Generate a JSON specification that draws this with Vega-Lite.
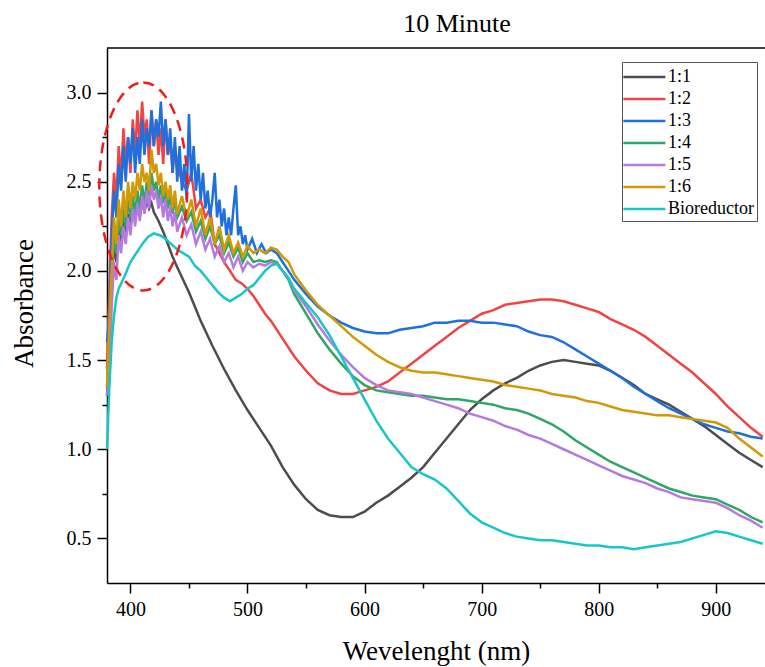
{
  "$schema": "https://vega.github.io/schema/vega-lite/v6.json",
  "autosize": "none",
  "width": 658,
  "height": 535,
  "padding": {"left": 107, "top": 48, "right": 0, "bottom": 84},
  "background": "white",
  "config": {"view": {"stroke": null}, "font": "Liberation Serif"},
  "title": {"text": "10 Minute", "font": "Liberation Serif", "fontSize": 26, "fontWeight": "normal", "color": "black", "offset": 10, "dx": 21},
  "resolve": {"axis": {"x": "independent", "y": "independent"}},
  "layer": [
    {
      "data": {"values": [
{"w":380,"s":"1:1","a":1.3},{"w":382,"s":"1:1","a":1.6},{"w":384,"s":"1:1","a":1.95},{"w":386,"s":"1:1","a":2.15},{"w":388,"s":"1:1","a":2.05},{"w":390,"s":"1:1","a":2.25},{"w":392,"s":"1:1","a":2.15},{"w":394,"s":"1:1","a":2.28},{"w":396,"s":"1:1","a":2.2},{"w":398,"s":"1:1","a":2.32},{"w":400,"s":"1:1","a":2.25},{"w":402,"s":"1:1","a":2.35},{"w":404,"s":"1:1","a":2.28},{"w":406,"s":"1:1","a":2.38},{"w":408,"s":"1:1","a":2.3},{"w":410,"s":"1:1","a":2.4},{"w":412,"s":"1:1","a":2.33},{"w":414,"s":"1:1","a":2.4},{"w":416,"s":"1:1","a":2.35},{"w":418,"s":"1:1","a":2.38},{"w":420,"s":"1:1","a":2.33},{"w":424,"s":"1:1","a":2.28},{"w":428,"s":"1:1","a":2.22},{"w":432,"s":"1:1","a":2.15},{"w":436,"s":"1:1","a":2.08},{"w":440,"s":"1:1","a":2.02},{"w":445,"s":"1:1","a":1.95},{"w":450,"s":"1:1","a":1.88},{"w":455,"s":"1:1","a":1.8},{"w":460,"s":"1:1","a":1.72},{"w":470,"s":"1:1","a":1.58},{"w":480,"s":"1:1","a":1.45},{"w":490,"s":"1:1","a":1.33},{"w":500,"s":"1:1","a":1.22},{"w":510,"s":"1:1","a":1.12},{"w":520,"s":"1:1","a":1.02},{"w":530,"s":"1:1","a":0.9},{"w":540,"s":"1:1","a":0.8},{"w":550,"s":"1:1","a":0.72},{"w":560,"s":"1:1","a":0.66},{"w":570,"s":"1:1","a":0.63},{"w":580,"s":"1:1","a":0.62},{"w":590,"s":"1:1","a":0.62},{"w":600,"s":"1:1","a":0.65},{"w":610,"s":"1:1","a":0.7},{"w":620,"s":"1:1","a":0.74},{"w":630,"s":"1:1","a":0.79},{"w":640,"s":"1:1","a":0.84},{"w":650,"s":"1:1","a":0.9},{"w":660,"s":"1:1","a":0.98},{"w":670,"s":"1:1","a":1.06},{"w":680,"s":"1:1","a":1.14},{"w":690,"s":"1:1","a":1.22},{"w":700,"s":"1:1","a":1.28},{"w":710,"s":"1:1","a":1.33},{"w":720,"s":"1:1","a":1.37},{"w":730,"s":"1:1","a":1.4},{"w":740,"s":"1:1","a":1.44},{"w":750,"s":"1:1","a":1.47},{"w":760,"s":"1:1","a":1.49},{"w":770,"s":"1:1","a":1.5},{"w":780,"s":"1:1","a":1.49},{"w":790,"s":"1:1","a":1.48},{"w":800,"s":"1:1","a":1.47},{"w":810,"s":"1:1","a":1.44},{"w":820,"s":"1:1","a":1.4},{"w":830,"s":"1:1","a":1.36},{"w":840,"s":"1:1","a":1.31},{"w":850,"s":"1:1","a":1.28},{"w":860,"s":"1:1","a":1.25},{"w":870,"s":"1:1","a":1.21},{"w":880,"s":"1:1","a":1.17},{"w":890,"s":"1:1","a":1.13},{"w":900,"s":"1:1","a":1.08},{"w":910,"s":"1:1","a":1.03},{"w":920,"s":"1:1","a":0.98},{"w":930,"s":"1:1","a":0.94},{"w":940,"s":"1:1","a":0.9},

{"w":380,"s":"1:2","a":1.45},{"w":382,"s":"1:2","a":1.9},{"w":384,"s":"1:2","a":2.3},{"w":386,"s":"1:2","a":2.55},{"w":388,"s":"1:2","a":2.4},{"w":390,"s":"1:2","a":2.7},{"w":392,"s":"1:2","a":2.5},{"w":394,"s":"1:2","a":2.8},{"w":396,"s":"1:2","a":2.6},{"w":398,"s":"1:2","a":2.75},{"w":400,"s":"1:2","a":2.55},{"w":402,"s":"1:2","a":2.85},{"w":404,"s":"1:2","a":2.65},{"w":406,"s":"1:2","a":2.9},{"w":408,"s":"1:2","a":2.7},{"w":410,"s":"1:2","a":2.95},{"w":412,"s":"1:2","a":2.75},{"w":414,"s":"1:2","a":2.85},{"w":416,"s":"1:2","a":2.6},{"w":418,"s":"1:2","a":2.9},{"w":420,"s":"1:2","a":2.7},{"w":422,"s":"1:2","a":2.85},{"w":424,"s":"1:2","a":2.65},{"w":426,"s":"1:2","a":2.8},{"w":428,"s":"1:2","a":2.6},{"w":430,"s":"1:2","a":2.85},{"w":432,"s":"1:2","a":2.65},{"w":434,"s":"1:2","a":2.75},{"w":436,"s":"1:2","a":2.55},{"w":438,"s":"1:2","a":2.7},{"w":440,"s":"1:2","a":2.6},{"w":444,"s":"1:2","a":2.5},{"w":448,"s":"1:2","a":2.45},{"w":452,"s":"1:2","a":2.55},{"w":456,"s":"1:2","a":2.35},{"w":460,"s":"1:2","a":2.4},{"w":464,"s":"1:2","a":2.3},{"w":468,"s":"1:2","a":2.35},{"w":472,"s":"1:2","a":2.15},{"w":476,"s":"1:2","a":2.1},{"w":480,"s":"1:2","a":2.05},{"w":485,"s":"1:2","a":2.0},{"w":490,"s":"1:2","a":1.95},{"w":495,"s":"1:2","a":1.93},{"w":500,"s":"1:2","a":1.9},{"w":505,"s":"1:2","a":1.86},{"w":510,"s":"1:2","a":1.81},{"w":515,"s":"1:2","a":1.76},{"w":520,"s":"1:2","a":1.72},{"w":530,"s":"1:2","a":1.62},{"w":540,"s":"1:2","a":1.52},{"w":550,"s":"1:2","a":1.44},{"w":560,"s":"1:2","a":1.37},{"w":570,"s":"1:2","a":1.33},{"w":580,"s":"1:2","a":1.31},{"w":590,"s":"1:2","a":1.31},{"w":600,"s":"1:2","a":1.33},{"w":610,"s":"1:2","a":1.35},{"w":620,"s":"1:2","a":1.38},{"w":630,"s":"1:2","a":1.43},{"w":640,"s":"1:2","a":1.48},{"w":650,"s":"1:2","a":1.53},{"w":660,"s":"1:2","a":1.58},{"w":670,"s":"1:2","a":1.63},{"w":680,"s":"1:2","a":1.68},{"w":690,"s":"1:2","a":1.72},{"w":700,"s":"1:2","a":1.76},{"w":710,"s":"1:2","a":1.78},{"w":720,"s":"1:2","a":1.81},{"w":730,"s":"1:2","a":1.82},{"w":740,"s":"1:2","a":1.83},{"w":750,"s":"1:2","a":1.84},{"w":760,"s":"1:2","a":1.84},{"w":770,"s":"1:2","a":1.83},{"w":780,"s":"1:2","a":1.81},{"w":790,"s":"1:2","a":1.79},{"w":800,"s":"1:2","a":1.77},{"w":810,"s":"1:2","a":1.73},{"w":820,"s":"1:2","a":1.7},{"w":830,"s":"1:2","a":1.67},{"w":840,"s":"1:2","a":1.63},{"w":850,"s":"1:2","a":1.58},{"w":860,"s":"1:2","a":1.53},{"w":870,"s":"1:2","a":1.48},{"w":880,"s":"1:2","a":1.43},{"w":890,"s":"1:2","a":1.37},{"w":900,"s":"1:2","a":1.31},{"w":910,"s":"1:2","a":1.24},{"w":920,"s":"1:2","a":1.18},{"w":930,"s":"1:2","a":1.12},{"w":940,"s":"1:2","a":1.07},

{"w":380,"s":"1:3","a":1.6},{"w":382,"s":"1:3","a":1.75},{"w":384,"s":"1:3","a":2.2},{"w":386,"s":"1:3","a":2.45},{"w":388,"s":"1:3","a":2.3},{"w":390,"s":"1:3","a":2.6},{"w":392,"s":"1:3","a":2.45},{"w":394,"s":"1:3","a":2.7},{"w":396,"s":"1:3","a":2.5},{"w":398,"s":"1:3","a":2.75},{"w":400,"s":"1:3","a":2.6},{"w":402,"s":"1:3","a":2.8},{"w":404,"s":"1:3","a":2.55},{"w":406,"s":"1:3","a":2.75},{"w":408,"s":"1:3","a":2.6},{"w":410,"s":"1:3","a":2.85},{"w":412,"s":"1:3","a":2.65},{"w":414,"s":"1:3","a":2.8},{"w":416,"s":"1:3","a":2.7},{"w":418,"s":"1:3","a":2.9},{"w":420,"s":"1:3","a":2.7},{"w":422,"s":"1:3","a":2.85},{"w":424,"s":"1:3","a":2.75},{"w":426,"s":"1:3","a":2.95},{"w":428,"s":"1:3","a":2.7},{"w":430,"s":"1:3","a":2.85},{"w":432,"s":"1:3","a":2.65},{"w":434,"s":"1:3","a":2.8},{"w":436,"s":"1:3","a":2.55},{"w":438,"s":"1:3","a":2.75},{"w":440,"s":"1:3","a":2.5},{"w":442,"s":"1:3","a":2.7},{"w":444,"s":"1:3","a":2.45},{"w":446,"s":"1:3","a":2.6},{"w":448,"s":"1:3","a":2.4},{"w":450,"s":"1:3","a":2.88},{"w":452,"s":"1:3","a":2.5},{"w":454,"s":"1:3","a":2.7},{"w":456,"s":"1:3","a":2.45},{"w":458,"s":"1:3","a":2.6},{"w":460,"s":"1:3","a":2.4},{"w":462,"s":"1:3","a":2.55},{"w":464,"s":"1:3","a":2.35},{"w":466,"s":"1:3","a":2.45},{"w":468,"s":"1:3","a":2.3},{"w":470,"s":"1:3","a":2.4},{"w":472,"s":"1:3","a":2.55},{"w":474,"s":"1:3","a":2.3},{"w":476,"s":"1:3","a":2.4},{"w":478,"s":"1:3","a":2.25},{"w":480,"s":"1:3","a":2.35},{"w":482,"s":"1:3","a":2.2},{"w":484,"s":"1:3","a":2.3},{"w":486,"s":"1:3","a":2.2},{"w":488,"s":"1:3","a":2.35},{"w":490,"s":"1:3","a":2.48},{"w":492,"s":"1:3","a":2.2},{"w":494,"s":"1:3","a":2.25},{"w":496,"s":"1:3","a":2.15},{"w":498,"s":"1:3","a":2.2},{"w":500,"s":"1:3","a":2.12},{"w":504,"s":"1:3","a":2.18},{"w":508,"s":"1:3","a":2.1},{"w":512,"s":"1:3","a":2.15},{"w":516,"s":"1:3","a":2.1},{"w":520,"s":"1:3","a":2.12},{"w":525,"s":"1:3","a":2.1},{"w":530,"s":"1:3","a":2.05},{"w":535,"s":"1:3","a":2.0},{"w":540,"s":"1:3","a":1.95},{"w":550,"s":"1:3","a":1.87},{"w":560,"s":"1:3","a":1.8},{"w":570,"s":"1:3","a":1.75},{"w":580,"s":"1:3","a":1.71},{"w":590,"s":"1:3","a":1.68},{"w":600,"s":"1:3","a":1.66},{"w":610,"s":"1:3","a":1.65},{"w":620,"s":"1:3","a":1.65},{"w":630,"s":"1:3","a":1.67},{"w":640,"s":"1:3","a":1.68},{"w":650,"s":"1:3","a":1.69},{"w":660,"s":"1:3","a":1.71},{"w":670,"s":"1:3","a":1.71},{"w":680,"s":"1:3","a":1.72},{"w":690,"s":"1:3","a":1.72},{"w":700,"s":"1:3","a":1.71},{"w":710,"s":"1:3","a":1.71},{"w":720,"s":"1:3","a":1.7},{"w":730,"s":"1:3","a":1.69},{"w":740,"s":"1:3","a":1.66},{"w":750,"s":"1:3","a":1.64},{"w":760,"s":"1:3","a":1.63},{"w":770,"s":"1:3","a":1.6},{"w":780,"s":"1:3","a":1.56},{"w":790,"s":"1:3","a":1.52},{"w":800,"s":"1:3","a":1.48},{"w":810,"s":"1:3","a":1.44},{"w":820,"s":"1:3","a":1.4},{"w":830,"s":"1:3","a":1.35},{"w":840,"s":"1:3","a":1.31},{"w":850,"s":"1:3","a":1.27},{"w":860,"s":"1:3","a":1.23},{"w":870,"s":"1:3","a":1.2},{"w":880,"s":"1:3","a":1.17},{"w":890,"s":"1:3","a":1.14},{"w":900,"s":"1:3","a":1.12},{"w":910,"s":"1:3","a":1.1},{"w":920,"s":"1:3","a":1.09},{"w":930,"s":"1:3","a":1.07},{"w":940,"s":"1:3","a":1.06},

{"w":380,"s":"1:4","a":1.35},{"w":382,"s":"1:4","a":1.6},{"w":384,"s":"1:4","a":1.95},{"w":386,"s":"1:4","a":2.2},{"w":388,"s":"1:4","a":2.1},{"w":390,"s":"1:4","a":2.3},{"w":392,"s":"1:4","a":2.2},{"w":394,"s":"1:4","a":2.35},{"w":396,"s":"1:4","a":2.25},{"w":398,"s":"1:4","a":2.4},{"w":400,"s":"1:4","a":2.3},{"w":402,"s":"1:4","a":2.42},{"w":404,"s":"1:4","a":2.32},{"w":406,"s":"1:4","a":2.45},{"w":408,"s":"1:4","a":2.35},{"w":410,"s":"1:4","a":2.48},{"w":412,"s":"1:4","a":2.38},{"w":414,"s":"1:4","a":2.5},{"w":416,"s":"1:4","a":2.42},{"w":418,"s":"1:4","a":2.55},{"w":420,"s":"1:4","a":2.45},{"w":422,"s":"1:4","a":2.5},{"w":424,"s":"1:4","a":2.4},{"w":426,"s":"1:4","a":2.48},{"w":428,"s":"1:4","a":2.38},{"w":430,"s":"1:4","a":2.45},{"w":432,"s":"1:4","a":2.35},{"w":434,"s":"1:4","a":2.42},{"w":436,"s":"1:4","a":2.32},{"w":438,"s":"1:4","a":2.4},{"w":440,"s":"1:4","a":2.3},{"w":444,"s":"1:4","a":2.36},{"w":448,"s":"1:4","a":2.28},{"w":452,"s":"1:4","a":2.33},{"w":456,"s":"1:4","a":2.22},{"w":460,"s":"1:4","a":2.28},{"w":464,"s":"1:4","a":2.18},{"w":468,"s":"1:4","a":2.25},{"w":472,"s":"1:4","a":2.15},{"w":476,"s":"1:4","a":2.2},{"w":480,"s":"1:4","a":2.1},{"w":484,"s":"1:4","a":2.16},{"w":488,"s":"1:4","a":2.08},{"w":492,"s":"1:4","a":2.13},{"w":496,"s":"1:4","a":2.05},{"w":500,"s":"1:4","a":2.1},{"w":505,"s":"1:4","a":2.05},{"w":510,"s":"1:4","a":2.06},{"w":515,"s":"1:4","a":2.05},{"w":520,"s":"1:4","a":2.06},{"w":525,"s":"1:4","a":2.05},{"w":530,"s":"1:4","a":2.0},{"w":535,"s":"1:4","a":1.95},{"w":540,"s":"1:4","a":1.87},{"w":550,"s":"1:4","a":1.76},{"w":560,"s":"1:4","a":1.65},{"w":570,"s":"1:4","a":1.56},{"w":580,"s":"1:4","a":1.48},{"w":590,"s":"1:4","a":1.41},{"w":600,"s":"1:4","a":1.36},{"w":610,"s":"1:4","a":1.33},{"w":620,"s":"1:4","a":1.32},{"w":630,"s":"1:4","a":1.31},{"w":640,"s":"1:4","a":1.3},{"w":650,"s":"1:4","a":1.3},{"w":660,"s":"1:4","a":1.29},{"w":670,"s":"1:4","a":1.28},{"w":680,"s":"1:4","a":1.28},{"w":690,"s":"1:4","a":1.27},{"w":700,"s":"1:4","a":1.26},{"w":710,"s":"1:4","a":1.25},{"w":720,"s":"1:4","a":1.23},{"w":730,"s":"1:4","a":1.22},{"w":740,"s":"1:4","a":1.2},{"w":750,"s":"1:4","a":1.17},{"w":760,"s":"1:4","a":1.14},{"w":770,"s":"1:4","a":1.1},{"w":780,"s":"1:4","a":1.05},{"w":790,"s":"1:4","a":1.01},{"w":800,"s":"1:4","a":0.97},{"w":810,"s":"1:4","a":0.93},{"w":820,"s":"1:4","a":0.9},{"w":830,"s":"1:4","a":0.87},{"w":840,"s":"1:4","a":0.84},{"w":850,"s":"1:4","a":0.81},{"w":860,"s":"1:4","a":0.78},{"w":870,"s":"1:4","a":0.76},{"w":880,"s":"1:4","a":0.74},{"w":890,"s":"1:4","a":0.73},{"w":900,"s":"1:4","a":0.72},{"w":910,"s":"1:4","a":0.69},{"w":920,"s":"1:4","a":0.66},{"w":930,"s":"1:4","a":0.62},{"w":940,"s":"1:4","a":0.59},

{"w":380,"s":"1:5","a":1.3},{"w":382,"s":"1:5","a":1.45},{"w":384,"s":"1:5","a":1.8},{"w":386,"s":"1:5","a":2.05},{"w":388,"s":"1:5","a":1.95},{"w":390,"s":"1:5","a":2.2},{"w":392,"s":"1:5","a":2.1},{"w":394,"s":"1:5","a":2.25},{"w":396,"s":"1:5","a":2.15},{"w":398,"s":"1:5","a":2.3},{"w":400,"s":"1:5","a":2.2},{"w":402,"s":"1:5","a":2.35},{"w":404,"s":"1:5","a":2.25},{"w":406,"s":"1:5","a":2.38},{"w":408,"s":"1:5","a":2.28},{"w":410,"s":"1:5","a":2.42},{"w":412,"s":"1:5","a":2.32},{"w":414,"s":"1:5","a":2.45},{"w":416,"s":"1:5","a":2.35},{"w":418,"s":"1:5","a":2.48},{"w":420,"s":"1:5","a":2.4},{"w":422,"s":"1:5","a":2.45},{"w":424,"s":"1:5","a":2.35},{"w":426,"s":"1:5","a":2.42},{"w":428,"s":"1:5","a":2.3},{"w":430,"s":"1:5","a":2.4},{"w":432,"s":"1:5","a":2.28},{"w":434,"s":"1:5","a":2.36},{"w":436,"s":"1:5","a":2.25},{"w":438,"s":"1:5","a":2.33},{"w":440,"s":"1:5","a":2.22},{"w":444,"s":"1:5","a":2.3},{"w":448,"s":"1:5","a":2.2},{"w":452,"s":"1:5","a":2.26},{"w":456,"s":"1:5","a":2.15},{"w":460,"s":"1:5","a":2.22},{"w":464,"s":"1:5","a":2.12},{"w":468,"s":"1:5","a":2.18},{"w":472,"s":"1:5","a":2.08},{"w":476,"s":"1:5","a":2.14},{"w":480,"s":"1:5","a":2.05},{"w":484,"s":"1:5","a":2.1},{"w":488,"s":"1:5","a":2.02},{"w":492,"s":"1:5","a":2.08},{"w":496,"s":"1:5","a":2.0},{"w":500,"s":"1:5","a":2.05},{"w":505,"s":"1:5","a":2.02},{"w":510,"s":"1:5","a":2.04},{"w":515,"s":"1:5","a":2.03},{"w":520,"s":"1:5","a":2.05},{"w":525,"s":"1:5","a":2.04},{"w":530,"s":"1:5","a":2.0},{"w":535,"s":"1:5","a":1.96},{"w":540,"s":"1:5","a":1.89},{"w":550,"s":"1:5","a":1.8},{"w":560,"s":"1:5","a":1.7},{"w":570,"s":"1:5","a":1.61},{"w":580,"s":"1:5","a":1.53},{"w":590,"s":"1:5","a":1.46},{"w":600,"s":"1:5","a":1.4},{"w":610,"s":"1:5","a":1.36},{"w":620,"s":"1:5","a":1.33},{"w":630,"s":"1:5","a":1.32},{"w":640,"s":"1:5","a":1.31},{"w":650,"s":"1:5","a":1.29},{"w":660,"s":"1:5","a":1.27},{"w":670,"s":"1:5","a":1.25},{"w":680,"s":"1:5","a":1.23},{"w":690,"s":"1:5","a":1.2},{"w":700,"s":"1:5","a":1.18},{"w":710,"s":"1:5","a":1.16},{"w":720,"s":"1:5","a":1.13},{"w":730,"s":"1:5","a":1.11},{"w":740,"s":"1:5","a":1.08},{"w":750,"s":"1:5","a":1.06},{"w":760,"s":"1:5","a":1.03},{"w":770,"s":"1:5","a":1.0},{"w":780,"s":"1:5","a":0.97},{"w":790,"s":"1:5","a":0.94},{"w":800,"s":"1:5","a":0.91},{"w":810,"s":"1:5","a":0.88},{"w":820,"s":"1:5","a":0.85},{"w":830,"s":"1:5","a":0.83},{"w":840,"s":"1:5","a":0.81},{"w":850,"s":"1:5","a":0.78},{"w":860,"s":"1:5","a":0.76},{"w":870,"s":"1:5","a":0.73},{"w":880,"s":"1:5","a":0.72},{"w":890,"s":"1:5","a":0.71},{"w":900,"s":"1:5","a":0.7},{"w":910,"s":"1:5","a":0.67},{"w":920,"s":"1:5","a":0.63},{"w":930,"s":"1:5","a":0.6},{"w":940,"s":"1:5","a":0.56},

{"w":380,"s":"1:6","a":1.35},{"w":382,"s":"1:6","a":1.7},{"w":384,"s":"1:6","a":2.0},{"w":386,"s":"1:6","a":2.3},{"w":388,"s":"1:6","a":2.15},{"w":390,"s":"1:6","a":2.4},{"w":392,"s":"1:6","a":2.25},{"w":394,"s":"1:6","a":2.45},{"w":396,"s":"1:6","a":2.3},{"w":398,"s":"1:6","a":2.5},{"w":400,"s":"1:6","a":2.35},{"w":402,"s":"1:6","a":2.5},{"w":404,"s":"1:6","a":2.4},{"w":406,"s":"1:6","a":2.55},{"w":408,"s":"1:6","a":2.45},{"w":410,"s":"1:6","a":2.6},{"w":412,"s":"1:6","a":2.5},{"w":414,"s":"1:6","a":2.55},{"w":416,"s":"1:6","a":2.45},{"w":418,"s":"1:6","a":2.68},{"w":420,"s":"1:6","a":2.55},{"w":422,"s":"1:6","a":2.6},{"w":424,"s":"1:6","a":2.48},{"w":426,"s":"1:6","a":2.55},{"w":428,"s":"1:6","a":2.42},{"w":430,"s":"1:6","a":2.5},{"w":432,"s":"1:6","a":2.4},{"w":434,"s":"1:6","a":2.48},{"w":436,"s":"1:6","a":2.35},{"w":438,"s":"1:6","a":2.45},{"w":440,"s":"1:6","a":2.32},{"w":444,"s":"1:6","a":2.42},{"w":448,"s":"1:6","a":2.3},{"w":452,"s":"1:6","a":2.4},{"w":456,"s":"1:6","a":2.25},{"w":460,"s":"1:6","a":2.35},{"w":464,"s":"1:6","a":2.2},{"w":468,"s":"1:6","a":2.3},{"w":472,"s":"1:6","a":2.15},{"w":476,"s":"1:6","a":2.25},{"w":480,"s":"1:6","a":2.12},{"w":484,"s":"1:6","a":2.2},{"w":488,"s":"1:6","a":2.1},{"w":492,"s":"1:6","a":2.16},{"w":496,"s":"1:6","a":2.08},{"w":500,"s":"1:6","a":2.14},{"w":505,"s":"1:6","a":2.1},{"w":510,"s":"1:6","a":2.12},{"w":515,"s":"1:6","a":2.1},{"w":520,"s":"1:6","a":2.13},{"w":525,"s":"1:6","a":2.12},{"w":530,"s":"1:6","a":2.08},{"w":535,"s":"1:6","a":2.05},{"w":540,"s":"1:6","a":1.98},{"w":550,"s":"1:6","a":1.89},{"w":560,"s":"1:6","a":1.81},{"w":570,"s":"1:6","a":1.75},{"w":580,"s":"1:6","a":1.69},{"w":590,"s":"1:6","a":1.63},{"w":600,"s":"1:6","a":1.58},{"w":610,"s":"1:6","a":1.53},{"w":620,"s":"1:6","a":1.49},{"w":630,"s":"1:6","a":1.46},{"w":640,"s":"1:6","a":1.44},{"w":650,"s":"1:6","a":1.43},{"w":660,"s":"1:6","a":1.43},{"w":670,"s":"1:6","a":1.42},{"w":680,"s":"1:6","a":1.41},{"w":690,"s":"1:6","a":1.4},{"w":700,"s":"1:6","a":1.39},{"w":710,"s":"1:6","a":1.38},{"w":720,"s":"1:6","a":1.36},{"w":730,"s":"1:6","a":1.35},{"w":740,"s":"1:6","a":1.34},{"w":750,"s":"1:6","a":1.33},{"w":760,"s":"1:6","a":1.31},{"w":770,"s":"1:6","a":1.3},{"w":780,"s":"1:6","a":1.29},{"w":790,"s":"1:6","a":1.27},{"w":800,"s":"1:6","a":1.26},{"w":810,"s":"1:6","a":1.24},{"w":820,"s":"1:6","a":1.22},{"w":830,"s":"1:6","a":1.21},{"w":840,"s":"1:6","a":1.2},{"w":850,"s":"1:6","a":1.19},{"w":860,"s":"1:6","a":1.19},{"w":870,"s":"1:6","a":1.18},{"w":880,"s":"1:6","a":1.17},{"w":890,"s":"1:6","a":1.16},{"w":900,"s":"1:6","a":1.15},{"w":910,"s":"1:6","a":1.12},{"w":920,"s":"1:6","a":1.06},{"w":930,"s":"1:6","a":1.01},{"w":940,"s":"1:6","a":0.96},

{"w":380,"s":"Bioreductor","a":1.0},{"w":382,"s":"Bioreductor","a":1.35},{"w":384,"s":"Bioreductor","a":1.6},{"w":386,"s":"Bioreductor","a":1.75},{"w":388,"s":"Bioreductor","a":1.85},{"w":390,"s":"Bioreductor","a":1.9},{"w":395,"s":"Bioreductor","a":1.97},{"w":400,"s":"Bioreductor","a":2.05},{"w":405,"s":"Bioreductor","a":2.1},{"w":410,"s":"Bioreductor","a":2.15},{"w":415,"s":"Bioreductor","a":2.19},{"w":420,"s":"Bioreductor","a":2.21},{"w":425,"s":"Bioreductor","a":2.2},{"w":430,"s":"Bioreductor","a":2.18},{"w":435,"s":"Bioreductor","a":2.15},{"w":440,"s":"Bioreductor","a":2.12},{"w":445,"s":"Bioreductor","a":2.1},{"w":450,"s":"Bioreductor","a":2.08},{"w":455,"s":"Bioreductor","a":2.03},{"w":460,"s":"Bioreductor","a":2.0},{"w":465,"s":"Bioreductor","a":1.96},{"w":470,"s":"Bioreductor","a":1.92},{"w":475,"s":"Bioreductor","a":1.88},{"w":480,"s":"Bioreductor","a":1.85},{"w":485,"s":"Bioreductor","a":1.83},{"w":490,"s":"Bioreductor","a":1.85},{"w":495,"s":"Bioreductor","a":1.87},{"w":500,"s":"Bioreductor","a":1.9},{"w":505,"s":"Bioreductor","a":1.92},{"w":510,"s":"Bioreductor","a":1.96},{"w":515,"s":"Bioreductor","a":2.0},{"w":520,"s":"Bioreductor","a":2.03},{"w":525,"s":"Bioreductor","a":2.04},{"w":530,"s":"Bioreductor","a":2.0},{"w":535,"s":"Bioreductor","a":1.96},{"w":540,"s":"Bioreductor","a":1.9},{"w":545,"s":"Bioreductor","a":1.86},{"w":550,"s":"Bioreductor","a":1.82},{"w":560,"s":"Bioreductor","a":1.74},{"w":570,"s":"Bioreductor","a":1.64},{"w":580,"s":"Bioreductor","a":1.52},{"w":590,"s":"Bioreductor","a":1.4},{"w":600,"s":"Bioreductor","a":1.28},{"w":610,"s":"Bioreductor","a":1.16},{"w":620,"s":"Bioreductor","a":1.06},{"w":630,"s":"Bioreductor","a":0.98},{"w":640,"s":"Bioreductor","a":0.9},{"w":650,"s":"Bioreductor","a":0.86},{"w":660,"s":"Bioreductor","a":0.83},{"w":670,"s":"Bioreductor","a":0.78},{"w":680,"s":"Bioreductor","a":0.71},{"w":690,"s":"Bioreductor","a":0.64},{"w":700,"s":"Bioreductor","a":0.59},{"w":710,"s":"Bioreductor","a":0.56},{"w":720,"s":"Bioreductor","a":0.53},{"w":730,"s":"Bioreductor","a":0.51},{"w":740,"s":"Bioreductor","a":0.5},{"w":750,"s":"Bioreductor","a":0.49},{"w":760,"s":"Bioreductor","a":0.49},{"w":770,"s":"Bioreductor","a":0.48},{"w":780,"s":"Bioreductor","a":0.47},{"w":790,"s":"Bioreductor","a":0.46},{"w":800,"s":"Bioreductor","a":0.46},{"w":810,"s":"Bioreductor","a":0.45},{"w":820,"s":"Bioreductor","a":0.45},{"w":830,"s":"Bioreductor","a":0.44},{"w":840,"s":"Bioreductor","a":0.45},{"w":850,"s":"Bioreductor","a":0.46},{"w":860,"s":"Bioreductor","a":0.47},{"w":870,"s":"Bioreductor","a":0.48},{"w":880,"s":"Bioreductor","a":0.5},{"w":890,"s":"Bioreductor","a":0.52},{"w":900,"s":"Bioreductor","a":0.54},{"w":910,"s":"Bioreductor","a":0.53},{"w":920,"s":"Bioreductor","a":0.51},{"w":930,"s":"Bioreductor","a":0.49},{"w":940,"s":"Bioreductor","a":0.47}
      ]},
      "mark": {"type": "line", "strokeWidth": 2.5},
      "encoding": {
        "x": {"field": "w", "type": "quantitative", "scale": {"domain": [380, 942], "nice": false, "zero": false},
          "axis": {"orient": "bottom", "values": [400, 500, 600, 700, 800, 900], "title": "Wevelenght (nm)", "grid": false,
            "domainColor": "black", "domainWidth": 1.5, "tickColor": "black", "tickWidth": 1.5, "tickSize": 10,
            "labelFont": "Liberation Serif", "labelFontSize": 20, "labelColor": "black", "labelPadding": 6,
            "titleFont": "Liberation Serif", "titleFontSize": 27, "titleFontWeight": "normal", "titleColor": "black", "titlePadding": 19}},
        "y": {"field": "a", "type": "quantitative", "scale": {"domain": [0.25, 3.25], "nice": false, "zero": false},
          "axis": {"orient": "left", "values": [0.5, 1.0, 1.5, 2.0, 2.5, 3.0], "format": ".1f", "title": "Absorbance", "grid": false,
            "domainColor": "black", "domainWidth": 1.5, "tickColor": "black", "tickWidth": 1.5, "tickSize": 10,
            "labelFont": "Liberation Serif", "labelFontSize": 20, "labelColor": "black", "labelPadding": 6,
            "titleFont": "Liberation Serif", "titleFontSize": 27, "titleFontWeight": "normal", "titleColor": "black", "titlePadding": 28, "titleY": 255}},
        "color": {"field": "s", "type": "nominal",
          "scale": {"domain": ["1:1", "1:2", "1:3", "1:4", "1:5", "1:6", "Bioreductor"],
                    "range": ["#4d4d4d", "#f04444", "#1f6fdd", "#2fa566", "#b47ae0", "#d09a06", "#17c6c9"]},
          "legend": {"orient": "none", "legendX": 515, "legendY": 14, "title": null,
            "symbolType": "M-1.3,0H2.7", "symbolSize": 441, "symbolStrokeWidth": 2.5,
            "labelFont": "Liberation Serif", "labelFontSize": 18, "labelColor": "black", "labelOffset": 19,
            "padding": 3, "rowPadding": 1, "strokeColor": "#555555", "fillColor": "white"}}
      }
    },
    {
      "data": {"values": [{"x0": 380, "x1": 942, "y": 3.25}]},
      "mark": {"type": "rule", "color": "black", "strokeWidth": 1.5},
      "encoding": {
        "x": {"field": "x0", "type": "quantitative",
          "axis": {"orient": "bottom", "values": [450, 550, 650, 750, 850], "labels": false, "domain": false, "grid": false, "title": null, "tickColor": "black", "tickWidth": 1.5, "tickSize": 5}},
        "x2": {"field": "x1"},
        "y": {"field": "y", "type": "quantitative",
          "axis": {"orient": "left", "values": [0.75, 1.25, 1.75, 2.25, 2.75], "labels": false, "domain": false, "grid": false, "title": null, "tickColor": "black", "tickWidth": 1.5, "tickSize": 5}}
      }
    },
    {
      "data": {"values": [{"cx": 411, "cy": 2.474}]},
      "mark": {"type": "point", "filled": false, "stroke": "#f01c1c", "strokeWidth": 2.5, "strokeDash": [11, 7], "opacity": 1, "size": 43264,
        "shape": "M0,-1C0.2336,-1 0.423,-0.5523 0.423,0C0.423,0.5523 0.2336,1 0,1C-0.2336,1 -0.423,0.5523 -0.423,0C-0.423,-0.5523 -0.2336,-1 0,-1Z"},
      "encoding": {
        "x": {"field": "cx", "type": "quantitative", "axis": null},
        "y": {"field": "cy", "type": "quantitative", "axis": null}
      }
    }
  ]
}
